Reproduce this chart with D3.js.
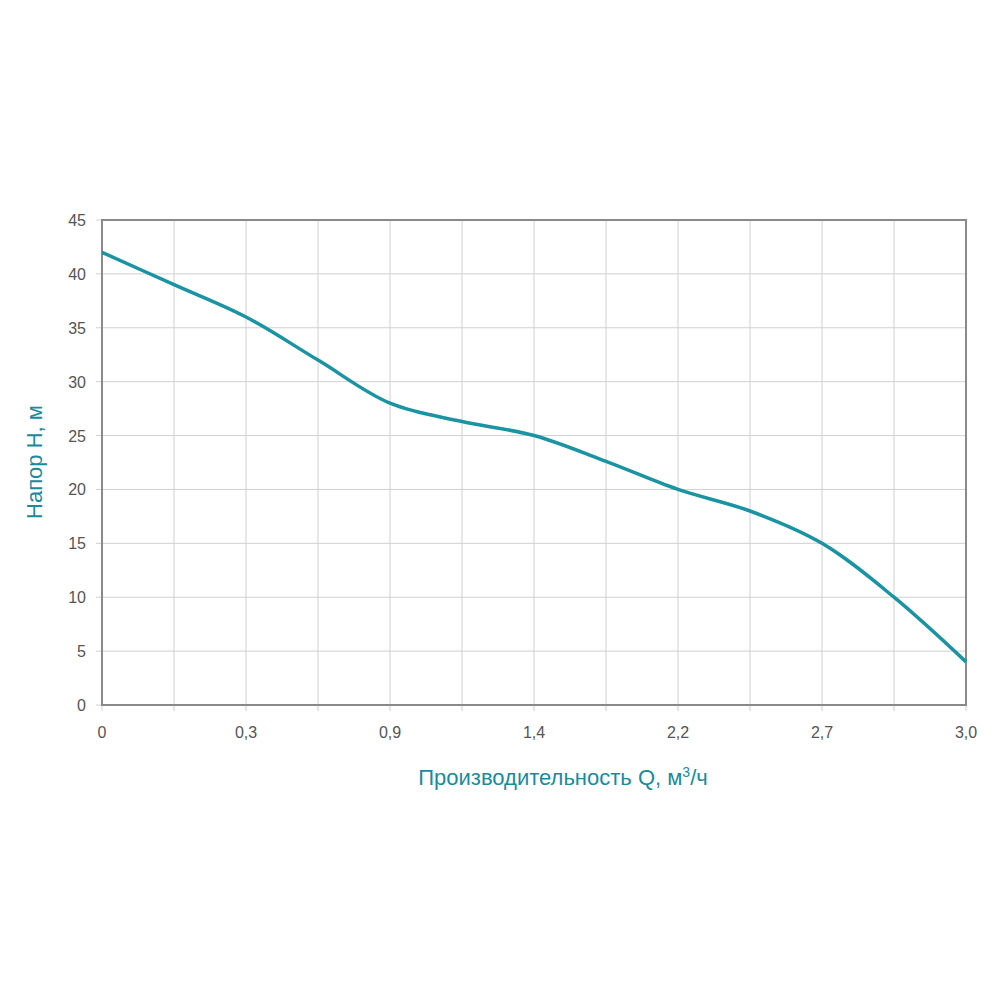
<!DOCTYPE html><html><head><meta charset="utf-8"><script src="https://d3js.org/d3.v7.min.js"></script>
<style>body{margin:0;background:#fff}</style></head><body><svg id="c" width="1000" height="1000"></svg>
<script>
const xIndex=[0,1,2,3,4,5,6,7,8,9,10,11,12];
const headValues=[42,39,36,32,28,26.3,25,22.6,20,18,15,10,4];
const xTickLabels={0:"0",2:"0,3",4:"0,9",6:"1,4",8:"2,2",10:"2,7",12:"3,0"};
const yTicks=[0,5,10,15,20,25,30,35,40,45];
const svg=d3.select("#c");
const x=d3.scaleLinear().domain([0,12]).range([102,966]);
const y=d3.scaleLinear().domain([0,45]).range([705,220]);
const g=svg.append("g");
g.selectAll(".vx").data(xIndex).join("line").attr("x1",d=>x(d)).attr("x2",d=>x(d)).attr("y1",220).attr("y2",711).attr("stroke","#d0d0d0").attr("stroke-width",1);
g.selectAll(".hy").data(yTicks).join("line").attr("x1",96).attr("x2",966).attr("y1",d=>y(d)).attr("y2",d=>y(d)).attr("stroke","#d0d0d0");
g.append("rect").attr("x",102).attr("y",220).attr("width",864).attr("height",485).attr("fill","none").attr("stroke","#8a8a8a").attr("stroke-width",2);
g.selectAll(".yl").data(yTicks).join("text").attr("x",86).attr("y",d=>y(d)+6).attr("text-anchor","end").attr("font-family","Liberation Sans, Arial").attr("font-size",16).attr("fill","#555").text(d=>d);
g.selectAll(".xl").data(Object.keys(xTickLabels).map(Number)).join("text").attr("x",d=>x(d)).attr("y",738).attr("text-anchor","middle").attr("font-family","Liberation Sans, Arial").attr("font-size",16).attr("fill","#555").text(d=>xTickLabels[d]);
g.append("path").datum(xIndex.map((d,i)=>[d,headValues[i]])).attr("d",d3.line().x(d=>x(d[0])).y(d=>y(d[1])).curve(d3.curveCatmullRom)).attr("fill","none").attr("stroke","#1a93a3").attr("stroke-width",3.5);
g.append("text").attr("x",563).attr("y",785).attr("text-anchor","middle").attr("font-family","Liberation Sans, Arial").attr("font-size",22).attr("fill","#1a8b9c").html('Производительность Q, м<tspan dy="-8" font-size="14">3</tspan><tspan dy="8">/ч</tspan>');
g.append("text").attr("transform","translate(42,462) rotate(-90)").attr("text-anchor","middle").attr("font-family","Liberation Sans, Arial").attr("font-size",22).attr("fill","#1a8b9c").text("Напор H, м");
</script></body></html>
